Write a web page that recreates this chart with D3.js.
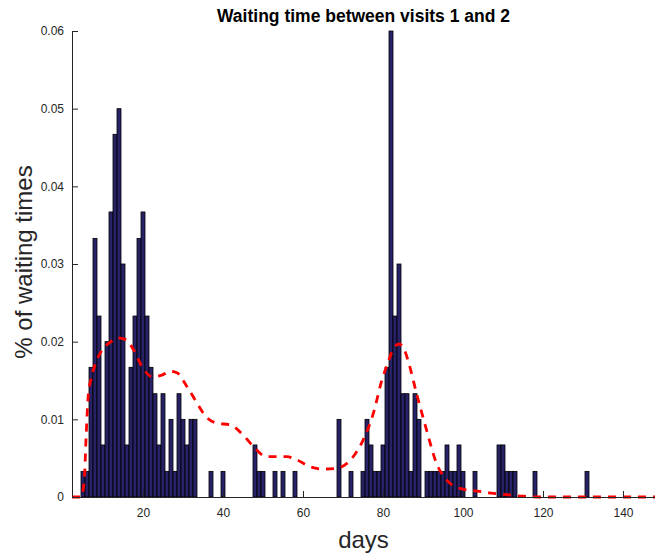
<!DOCTYPE html>
<html>
<head>
<meta charset="utf-8">
<script src="https://cdn.jsdelivr.net/npm/d3@7"></script>
<style>
  html, body { margin: 0; padding: 0; background: #fff; }
  svg { display: block; font-family: "Liberation Sans", Arial, Helvetica, sans-serif; }
</style>
</head>
<body>
<svg id="chart" width="655" height="554"></svg>
<script>
// Histogram of waiting times (days) between visit 1 and visit 2
const binDays = [5, 6, 7, 8, 9, 10, 11, 12, 13, 14, 15, 16, 17, 18, 19, 20, 21, 22, 23, 24,
  25, 26, 27, 28, 29, 30, 31, 32, 33, 37, 40, 48, 49, 50, 53, 55, 58, 69, 72, 75,
  76, 77, 78, 79, 80, 81, 82, 83, 84, 85, 86, 87, 88, 89, 91, 92, 93, 94, 95, 96,
  97, 98, 99, 100, 103, 109, 110, 111, 112, 113, 118, 131];
const binShare = [0.0033, 0.0033, 0.0167, 0.0333, 0.0233, 0.0067, 0.02, 0.0367, 0.0467, 0.05,
  0.03, 0.0067, 0.0167, 0.0233, 0.0333, 0.0367, 0.0233, 0.0167, 0.0133, 0.0067,
  0.0133, 0.0033, 0.01, 0.0033, 0.0133, 0.01, 0.0067, 0.01, 0.01, 0.0033,
  0.0033, 0.0067, 0.0033, 0.0033, 0.0033, 0.0033, 0.0033, 0.01, 0.0033, 0.0033,
  0.01, 0.0067, 0.0033, 0.0033, 0.0067, 0.0167, 0.06, 0.0233, 0.03, 0.0133,
  0.0133, 0.0033, 0.0133, 0.01, 0.0033, 0.0033, 0.0033, 0.0033, 0.0033, 0.0067,
  0.0033, 0.0033, 0.0067, 0.0033, 0.0033, 0.0067, 0.0067, 0.0033, 0.0033, 0.0033,
  0.0033, 0.0033];

// Smoothed density estimate
const densityDays = [2.25, 4.5, 5.3, 5.8, 6.3, 7, 8, 9.75, 12, 13.5, 15.5, 17.7, 19.75, 22.25,
  24.75, 26.8, 28.5, 31, 33.5, 35.5, 38.5, 41.75, 45, 47.6, 50.9, 55.9, 58.4, 61.75,
  65, 68.4, 70.9, 73, 75, 77.6, 79.7, 81.3, 82.6, 84, 85.3, 86.3, 88.4, 90.9, 93.4,
  95.9, 99.25, 103, 107, 111, 115, 119, 148];
const densityValues = [0, 0, 0.002, 0.008, 0.013, 0.0152, 0.017, 0.0189, 0.02, 0.0205, 0.0203,
  0.0189, 0.0168, 0.0155, 0.0157, 0.0162, 0.016, 0.0142, 0.0121, 0.0105, 0.0095, 0.0093,
  0.008, 0.0065, 0.0052, 0.0052, 0.0048, 0.0039, 0.0036, 0.0037, 0.0043, 0.0055, 0.0073,
  0.0108, 0.015, 0.0174, 0.0191, 0.0197, 0.019, 0.0175, 0.0133, 0.0086, 0.0043, 0.0022,
  0.0011, 0.0008, 0.0005, 0.0003, 0.0001, 0, 0];

const xTicks = [20, 40, 60, 80, 100, 120, 140];
const yTicks = [0, 0.01, 0.02, 0.03, 0.04, 0.05, 0.06];

const titleText = "Waiting time between visits 1 and 2";
const xLabel = "days";
const yLabel = "% of waiting times";

const svg = d3.select("#chart");
const plotLeft = 72, plotRight = 655, plotTop = 31, plotBottom = 497;

const x = d3.scaleLinear().domain([2.25, 148]).range([plotLeft, plotRight]);
const y = d3.scaleLinear().domain([0, 0.06]).range([plotBottom, plotTop]);

// bars
svg.append("g")
  .selectAll("rect")
  .data(binDays.map((d, i) => ({ day: d, v: binShare[i] })))
  .join("rect")
  .attr("x", d => x(d.day - 0.5))
  .attr("width", d => x(d.day + 0.5) - x(d.day - 0.5))
  .attr("y", d => y(d.v))
  .attr("height", d => y(0) - y(d.v))
  .attr("fill", "#272266")
  .attr("stroke", "#000")
  .attr("stroke-width", 0.8);

// density curve
const line = d3.line()
  .x((d, i) => x(densityDays[i]))
  .y(d => y(d))
  .curve(d3.curveMonotoneX);

svg.append("path")
  .attr("d", line(densityValues))
  .attr("fill", "none")
  .attr("stroke", "#ff0000")
  .attr("stroke-width", 2.8)
  .attr("stroke-dasharray", "8,7");

// axes
const axisColor = "#262626";
const yAxis = svg.append("g")
  .attr("transform", `translate(${plotLeft},0)`)
  .call(d3.axisLeft(y).tickValues(yTicks).tickSize(-6).tickSizeOuter(0).tickPadding(8)
    .tickFormat(d => d === 0 ? "0" : d3.format(".2f")(d)));

const xAxis = svg.append("g")
  .attr("transform", `translate(0,${plotBottom})`)
  .call(d3.axisBottom(x).tickValues(xTicks).tickSize(-6).tickSizeOuter(0).tickPadding(11));

[xAxis, yAxis].forEach(g => {
  g.selectAll("path, line").attr("stroke", axisColor);
  g.selectAll("text").attr("fill", axisColor).style("font-size", "12px")
    .style("font-family", "'Liberation Sans', Arial, Helvetica, sans-serif");
});

// title and axis labels
svg.append("text")
  .attr("x", (plotLeft + plotRight) / 2)
  .attr("y", 22)
  .attr("text-anchor", "middle")
  .style("font-size", "17.5px")
  .style("font-weight", "bold")
  .attr("fill", "#000")
  .text(titleText);

svg.append("text")
  .attr("x", (plotLeft + plotRight) / 2)
  .attr("y", 548)
  .attr("text-anchor", "middle")
  .style("font-size", "24px")
  .attr("fill", axisColor)
  .text(xLabel);

svg.append("text")
  .attr("transform", `translate(32,262) rotate(-90)`)
  .attr("text-anchor", "middle")
  .style("font-size", "24px")
  .attr("fill", axisColor)
  .text(yLabel);
</script>
</body>
</html>
